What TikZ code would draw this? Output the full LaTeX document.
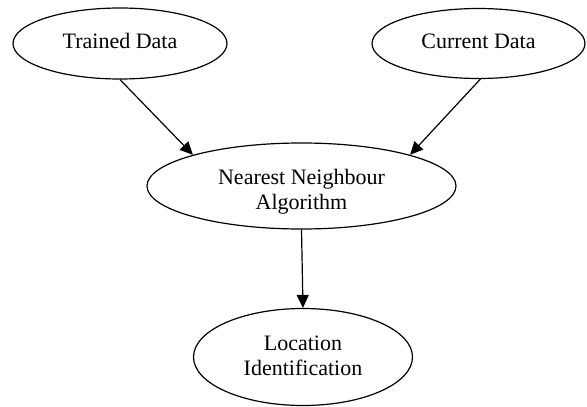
\documentclass[tikz,border=0pt]{standalone}
\usepackage{fontspec}
\setmainfont{Liberation Serif}
\usetikzlibrary{shapes.geometric,arrows.meta}
\newcommand{\txtbox}[3]{\raisebox{0pt}[#1][#2]{\begin{tabular}[t]{@{}c@{}}#3\end{tabular}}}
\begin{document}
\begin{tikzpicture}[x=1pt,y=-1pt,
  blob/.style={draw,ellipse,line width=1.2pt,inner sep=0pt,
    font=\fontsize{22}{25}\selectfont},
  conn/.style={line width=1.2pt,-{Triangle[length=13pt,width=12pt]}}]
\useasboundingbox (0,0) rectangle (587,407);
\node[blob,minimum width=214pt,minimum height=71pt] (td) at (120,43.5) {\txtbox{15pt}{6pt}{Trained Data}};
\node[blob,minimum width=213pt,minimum height=70pt] (cd) at (478.5,43.5) {\txtbox{15pt}{6pt}{Current Data}};
\node[blob,minimum width=309pt,minimum height=86pt] (nn) at (301.5,186) {\txtbox{15pt}{19pt}{Nearest Neighbour\\Algorithm}};
\node[blob,minimum width=219pt,minimum height=97pt] (li) at (303,357) {\txtbox{15pt}{29pt}{Location\\Identification}};
\draw[conn] (td.south) -- (nn.164);
\draw[conn] (cd.-87) -- (nn.16);
\draw[conn] (nn.south) -- (li.north);
\end{tikzpicture}
\end{document}
